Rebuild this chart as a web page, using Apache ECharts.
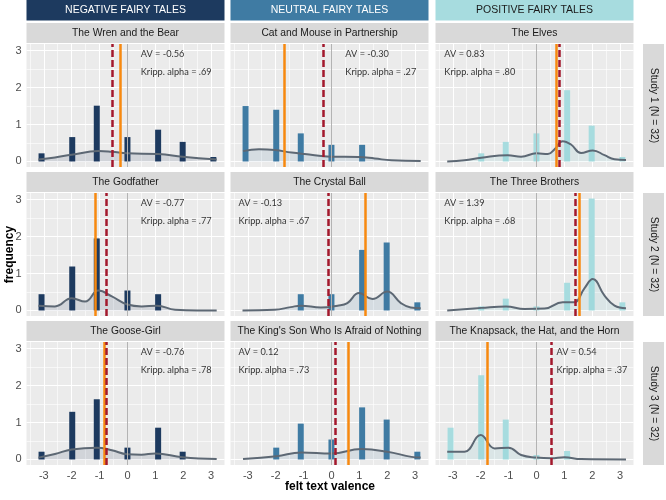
<!DOCTYPE html>
<html><head><meta charset="utf-8">
<script src="https://cdn.jsdelivr.net/npm/echarts@6/dist/echarts.min.js"></script>
<style>html,body{margin:0;padding:0;background:#fff}#c{width:666px;height:500px}</style>
</head><body><div id="c"></div>
<script>
// ---------- data ----------
const groupNames = ['NEGATIVE FAIRY TALES', 'NEUTRAL FAIRY TALES', 'POSITIVE FAIRY TALES'];
const studyNames = ['Study 1 (N = 32)', 'Study 2 (N = 32)', 'Study 3 (N = 32)'];
const taleTitles = ['The Wren and the Bear', 'Cat and Mouse in Partnership', 'The Elves',
  'The Godfather', 'The Crystal Ball', 'The Three Brothers',
  'The Goose-Girl', "The King's Son Who Is Afraid of Nothing", 'The Knapsack, the Hat, and the Horn'];
const avLabels = ['-0.56', '-0.30', '0.83', '-0.77', '-0.13', '1.39', '-0.76', '0.12', '0.54'];
const alphaLabels = ['.69', '.27', '.80', '.77', '.67', '.68', '.78', '.73', '.37'];
const avValues = [-0.56, -0.30, 0.83, -0.77, -0.13, 1.39, -0.76, 0.12, 0.54];
const orangeValues = [-0.26, -1.70, 0.71, -1.16, 1.21, 1.52, -0.82, 0.60, -1.77];
const annotationX = [0.46, 0.48, -3.32, 0.46, -3.35, -3.32, 0.46, -3.35, 0.70];
const xTicks = [-3, -2, -1, 0, 1, 2, 3];
const yTicks = [0, 1, 2, 3];
const binCenters = [-3.08, -1.98, -1.1, 0, 1.1, 1.98, 3.08];

const wrenFreq      = [0.22, 0.66, 1.51, 0.66, 0.86, 0.53, 0.12];
const catFreq       = [1.50, 1.40, 0.76, 0.45, 0.45, 0, 0];
const elvesFreq     = [0, 0.22, 0.53, 0.76, 1.93, 0.97, 0.12];
const godfatherFreq = [0.44, 1.19, 1.95, 0.54, 0.44, 0, 0];
const crystalFreq   = [0, 0, 0.44, 0.44, 1.64, 1.84, 0.22];
const brothersFreq  = [0, 0.11, 0.32, 0.11, 0.75, 3.03, 0.22];
const gooseFreq     = [0.21, 1.29, 1.63, 0.32, 0.86, 0.21, 0];
const kingFreq      = [0, 0.32, 0.97, 0.54, 1.41, 1.08, 0.21];
const knapsackFreq  = [0.86, 2.28, 1.08, 0.12, 0.23, 0, 0];

const wrenDensX = [-3.19, -2.6, -2.0, -1.04, -0.56, 0, 1.11, 1.98, 3.2];
const wrenDensY = [0.05, 0.11, 0.18, 0.28, 0.26, 0.22, 0.20, 0.13, 0.05];
const catDensX = [-3.17, -2.6, -2.03, -1.43, -0.96, 0, 0.96, 1.55, 2.15, 3.2];
const catDensY = [0.28, 0.33, 0.31, 0.24, 0.20, 0.13, 0.12, 0.08, 0.03, 0.01];
const elvesDensX = [-3.2, -2.58, -1.98, -1.03, -0.55, 0, 0.41, 0.65, 0.94, 1.24, 1.6, 2.02, 2.44, 2.8, 3.21];
const elvesDensY = [0.0, 0.03, 0.10, 0.17, 0.13, 0.22, 0.20, 0.33, 0.55, 0.46, 0.23, 0.30, 0.17, 0.06, 0.04];
const godfatherDensX = [-3.19, -2.6, -2.0, -1.52, -1.04, -0.56, 0, 0.51, 1.05, 1.71, 2.5, 3.2];
const godfatherDensY = [0.13, 0.11, 0.33, 0.24, 0.54, 0.38, 0.16, 0.11, 0.13, 0.02, 0.0, 0.0];
const crystalDensX = [-3.19, -2.05, -1.46, -1.1, -0.38, 0.22, 0.57, 0.99, 1.47, 2.0, 2.49, 2.84, 3.2];
const crystalDensY = [0.0, 0.02, 0.09, 0.13, 0.08, 0.13, 0.20, 0.47, 0.31, 0.51, 0.20, 0.08, 0.06];
const brothersDensX = [-3.2, -1.98, -1.09, -0.43, 0.29, 0.94, 1.35, 1.72, 2.02, 2.44, 2.8, 3.21];
const brothersDensY = [0.0, 0.07, 0.11, 0.04, 0.05, 0.22, 0.22, 0.60, 0.85, 0.40, 0.13, 0.06];
const gooseDensX = [-3.19, -2.6, -2.0, -1.1, -0.56, 0, 0.5, 0.99, 1.98, 3.2];
const gooseDensY = [0.05, 0.15, 0.27, 0.32, 0.25, 0.14, 0.13, 0.16, 0.06, 0.01];
const kingDensX = [-3.17, -1.97, -1.08, 0, 1.08, 2.0, 2.87, 3.2];
const kingDensY = [0.01, 0.09, 0.19, 0.16, 0.28, 0.21, 0.07, 0.05];
const knapsackDensX = [-3.2, -2.58, -2.0, -1.5, -1.0, -0.55, 0, 0.53, 1.0, 1.6, 3.21];
const knapsackDensY = [0.21, 0.21, 0.66, 0.30, 0.32, 0.12, 0.05, 0.03, 0.06, 0.01, 0.0];

const panelFreq = [wrenFreq, catFreq, elvesFreq, godfatherFreq, crystalFreq, brothersFreq, gooseFreq, kingFreq, knapsackFreq];
const panelDensX = [wrenDensX, catDensX, elvesDensX, godfatherDensX, crystalDensX, brothersDensX, gooseDensX, kingDensX, knapsackDensX];
const panelDensY = [wrenDensY, catDensY, elvesDensY, godfatherDensY, crystalDensY, brothersDensY, gooseDensY, kingDensY, knapsackDensY];

// ---------- layout & style ----------
const colLeft = [26.5, 230.5, 435.5], colW = 198;
const rowTop = [44, 193, 342], rowH = 123;
const groupColors = ['#1d3a5f', '#3f7ba3', '#a7dcdf'];
const areaColors = ['rgba(29,58,95,0.18)', 'rgba(63,123,163,0.18)', 'rgba(120,200,205,0.2)'];
const headerTextColor = ['#ffffff', '#ffffff', '#1a1a1a'];
const X_MIN = -3.62, X_MAX = 3.48, Y_MIN = -0.15, Y_MAX = 3.18;
const FONT = 'Liberation Sans';

const grids = [], xAxes = [], yAxes = [], series = [], graphics = [];

for (let i = 0; i < 9; i++) {
  const r = Math.floor(i / 3), c = i % 3;
  grids.push({left: colLeft[c], top: rowTop[r], width: colW, height: rowH,
    show: true, backgroundColor: '#ebebeb', borderWidth: 0, containLabel: false});
  const bottom = r === 2, leftCol = c === 0;
  xAxes.push({type: 'value', gridIndex: i, min: X_MIN, max: X_MAX,
    axisLine: {show: false}, splitLine: {show: false},
    axisTick: {show: bottom, customValues: xTicks, length: 3, lineStyle: {color: '#333333', width: 1}},
    axisLabel: {show: bottom, customValues: xTicks, color: '#4d4d4d', fontSize: 11, fontFamily: FONT, margin: 5}});
  yAxes.push({type: 'value', gridIndex: i, min: Y_MIN, max: Y_MAX,
    axisLine: {show: false}, splitLine: {show: false},
    axisTick: {show: leftCol, customValues: yTicks, length: 3, lineStyle: {color: '#333333', width: 1}},
    axisLabel: {show: leftCol, customValues: yTicks, color: '#4d4d4d', fontSize: 11, fontFamily: FONT, margin: 5}});

  // gridlines
  const gl = [];
  [-3.5, -2.5, -1.5, -0.5, 0.5, 1.5, 2.5].forEach(v => gl.push({xAxis: v, lineStyle: {color: '#ffffff', width: 0.6, type: 'solid'}}));
  [0.5, 1.5, 2.5].forEach(v => gl.push({yAxis: v, lineStyle: {color: '#ffffff', width: 0.6, type: 'solid'}}));
  xTicks.forEach(v => gl.push({xAxis: v, lineStyle: {color: '#ffffff', width: 1.1, type: 'solid'}}));
  yTicks.forEach(v => gl.push({yAxis: v, lineStyle: {color: '#ffffff', width: 1.1, type: 'solid'}}));

  const barData = [];
  panelFreq[i].forEach((f, k) => { if (f > 0) barData.push([binCenters[k], f]); });
  series.push({type: 'bar', xAxisIndex: i, yAxisIndex: i, data: barData, barWidth: 6,
    itemStyle: {color: groupColors[c]}, z: 2, silent: true, animation: false,
    markLine: {z: 1, silent: true, symbol: 'none', label: {show: false}, animation: false, data: gl}});

  const dens = panelDensX[i].map((x, k) => [x, panelDensY[i][k]]);
  series.push({type: 'line', xAxisIndex: i, yAxisIndex: i, data: dens, smooth: 0.45, symbol: 'none',
    lineStyle: {color: '#5d6874', width: 2}, areaStyle: {color: areaColors[c]}, z: 3, silent: true, animation: false,
    markLine: {z: 6, silent: true, symbol: 'none', label: {show: false}, animation: false, data: [
      {xAxis: 0, lineStyle: {color: '#b3b3b3', width: 1, type: 'solid'}},
      {xAxis: orangeValues[i], lineStyle: {color: '#f7890f', width: 2.5, type: 'solid'}},
      {xAxis: avValues[i], lineStyle: {color: '#a3182c', width: 2.5, type: [7, 3]}}
    ]}});

  series.push({type: 'scatter', xAxisIndex: i, yAxisIndex: i, symbolSize: 1, itemStyle: {color: 'rgba(0,0,0,0)'},
    z: 8, silent: true, animation: false,
    data: [
      {value: [annotationX[i], 2.92], label: {formatter: 'AV = ' + avLabels[i]}},
      {value: [annotationX[i], 2.43], label: {formatter: 'Kripp. alpha = ' + alphaLabels[i]}}
    ],
    label: {show: true, position: 'right', distance: 0, color: '#000000', fontSize: 9.2, fontFamily: 'Lato'}});

  // panel strip
  graphics.push({type: 'rect', shape: {x: colLeft[c], y: rowTop[r] - 21, width: colW, height: 20}, style: {fill: '#d9d9d9'}, silent: true});
  graphics.push({type: 'text', x: colLeft[c] + colW / 2, y: rowTop[r] - 11,
    style: {text: taleTitles[i], fill: '#1a1a1a', font: '10.3px "' + FONT + '"', align: 'center', verticalAlign: 'middle'}, silent: true});
}
// column headers
for (let c = 0; c < 3; c++) {
  graphics.push({type: 'rect', shape: {x: colLeft[c], y: 0, width: colW, height: 20.5}, style: {fill: groupColors[c]}, silent: true});
  graphics.push({type: 'text', x: colLeft[c] + colW / 2, y: 10.5,
    style: {text: groupNames[c], fill: headerTextColor[c], font: '10.5px "' + FONT + '"', align: 'center', verticalAlign: 'middle'}, silent: true});
}
// study strips
for (let r = 0; r < 3; r++) {
  graphics.push({type: 'rect', shape: {x: 643, y: rowTop[r], width: 21, height: rowH}, style: {fill: '#d9d9d9'}, silent: true});
  graphics.push({type: 'text', x: 653.5, y: rowTop[r] + rowH / 2, rotation: -Math.PI / 2,
    style: {text: studyNames[r], fill: '#1a1a1a', font: '10.3px "' + FONT + '"', align: 'center', verticalAlign: 'middle'}, silent: true});
}
// axis titles
graphics.push({type: 'text', x: 10, y: rowTop[0] + (rowTop[2] + rowH - rowTop[0]) / 2, rotation: Math.PI / 2,
  style: {text: 'frequency', fill: '#000000', font: 'bold 12px "' + FONT + '"', align: 'center', verticalAlign: 'middle'}, silent: true});
graphics.push({type: 'text', x: (colLeft[0] + colLeft[2] + colW) / 2, y: 487,
  style: {text: 'felt text valence', fill: '#000000', font: 'bold 12px "' + FONT + '"', align: 'center', verticalAlign: 'middle'}, silent: true});

const chart = echarts.init(document.getElementById('c'), null, {renderer: 'canvas'});
chart.setOption({animation: false, backgroundColor: '#ffffff', grid: grids, xAxis: xAxes, yAxis: yAxes, series: series, graphic: graphics});
</script>
</body></html>
